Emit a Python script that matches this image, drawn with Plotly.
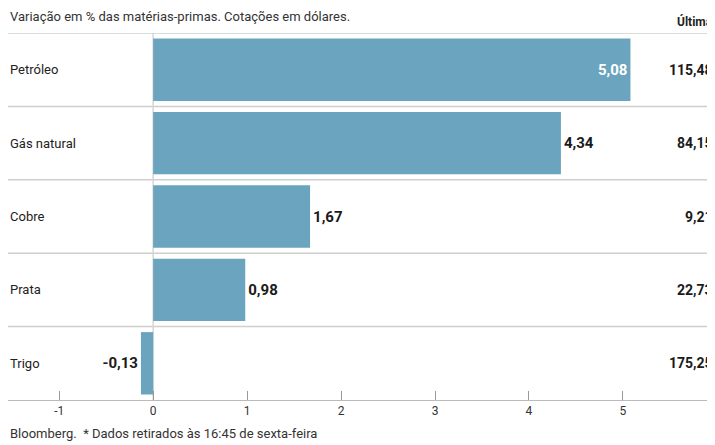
import plotly.graph_objects as go

categories = ["Petróleo", "Gás natural", "Cobre", "Prata", "Trigo"]
changes = [5.08, 4.34, 1.67, 0.98, -0.13]
last_prices = ["115,48", "84,15", "9,21", "22,73", "175,25"]

# page body adds an 8px offset, so the figure is sized to fit inside the window
W, H = 707, 437
FONT = "Roboto, sans-serif"
BAR = "#6aa4be"

labels = [f"{v:.2f}".replace(".", ",") for v in changes]
positions = ["inside", "outside", "outside", "outside", "outside"]
colors = ["white", "#1a1a1a", "#1a1a1a", "#1a1a1a", "#1a1a1a"]

fig = go.Figure(
    go.Bar(
        x=changes,
        y=list(range(len(categories))),
        orientation="h",
        width=0.85,
        marker=dict(color=BAR, line=dict(width=0)),
        text=labels,
        textposition=positions,
        insidetextanchor="end",
        textfont=dict(family=FONT, size=15, color=colors, weight="bold"),
        cliponaxis=False,
    )
)

shapes = []
for b in [-0.5, 0.5, 1.5, 2.5, 3.5]:
    shapes.append(dict(type="line", xref="paper", x0=0, x1=1, yref="y", y0=b, y1=b,
                       line=dict(color="#cfcfcf", width=1.5), layer="below"))
shapes.append(dict(type="line", xref="x", x0=0, x1=0, yref="y", y0=-0.5, y1=4.5,
                   line=dict(color="#d5d5d5", width=1.5), layer="below"))

annotations = [
    dict(text="Variação em % das matérias-primas. Cotações em dólares.", xref="paper", yref="paper",
         x=0, xanchor="left", y=1, yshift=26, yanchor="top", showarrow=False,
         font=dict(family=FONT, size=13, color="#333")),
    dict(text="<b>Última</b>", xref="paper", yref="paper", x=1, xanchor="right",
         y=1, yshift=2, yanchor="bottom", showarrow=False,
         font=dict(family=FONT, size=12, color="#222")),
    dict(text="Bloomberg.  * Dados retirados às 16:45 de sexta-feira", xref="paper", yref="paper",
         x=0, xanchor="left", y=0, yshift=-24, yanchor="top", showarrow=False,
         font=dict(family=FONT, size=13, color="#333")),
]
for i, cat in enumerate(categories):
    annotations.append(dict(text=cat, xref="paper", x=0, xanchor="left",
                            yref="y", y=i, showarrow=False,
                            font=dict(family=FONT, size=13, color="#222")))
    annotations.append(dict(text=f"<b>{last_prices[i]}</b>", xref="paper", x=1,
                            xanchor="right", yref="y", y=i, showarrow=False,
                            font=dict(family=FONT, size=14, color="#1a1a1a")))

fig.update_layout(
    width=W, height=H,
    margin=dict(l=0, r=0, t=25, b=45),
    paper_bgcolor="white", plot_bgcolor="white",
    showlegend=False,
    font=dict(family=FONT),
    xaxis=dict(range=[-1.545, 5.98], tickvals=[-1, 0, 1, 2, 3, 4, 5],
               ticktext=["-1", "0", "1", "2", "3", "4", "5"],
               showgrid=False, zeroline=False, showline=True, linecolor="#bbb", linewidth=1,
               ticks="inside", ticklen=9, tickcolor="#999",
               tickfont=dict(size=12, color="#333")),
    yaxis=dict(range=[4.5, -0.5], showticklabels=False, showgrid=False, zeroline=False),
    shapes=shapes,
    annotations=annotations,
)

fig.write_html("out.html")
